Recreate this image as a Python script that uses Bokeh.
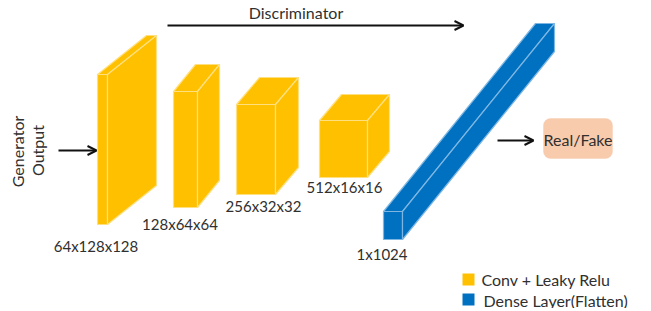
from bokeh.plotting import figure
from bokeh.models import Range1d, Arrow, OpenHead, BoxAnnotation
from bokeh.core.properties import value
from bokeh.embed import file_html
from bokeh.resources import INLINE

# ---- data ----
conv_labels = ["64x128x128", "128x64x64", "256x32x32", "512x16x16"]
dense_label = "1x1024"
legend_labels = ["Conv + Leaky Relu", "Dense Layer(Flatten)"]

# ---- layout (pixel space of the diagram) ----
conv_left = [97, 173, 236, 319]
conv_right = [107, 197, 275, 367]
conv_top = [74, 91, 104, 120]
conv_bottom = [224, 207, 194, 177]
conv_dx = [49, 22, 23, 22]
conv_dy = [39, 27, 27, 26]
conv_label_x = [95.5, 179.5, 263, 344]
conv_label_y = [245, 223, 205, 186]

dense_box = dict(l=383, r=402, t=211, b=239, dx=152, dy=188)
dense_label_xy = (381.5, 253)

YELLOW, YELLOW_EDGE = "#FFC000", "#FFE080"
BLUE, BLUE_EDGE = "#0070C0", "#7DB6E3"
TEXT = "#303030"
FONT = value("Lato")

W, H = 648, 308
p = figure(width=W, height=H, x_range=Range1d(0, W), y_range=Range1d(H, 0),
           output_backend="svg", toolbar_location=None, min_border=0)
p.axis.visible = False
p.grid.visible = False
p.outline_line_color = None
p.background_fill_color = "white"


def draw_box(l, r, t, b, dx, dy, fill, edge):
    xs = [[l, r, r, l],
          [l, r, r + dx, l + dx],
          [r, r + dx, r + dx, r]]
    ys = [[t, t, b, b],
          [t, t, t - dy, t - dy],
          [t, t - dy, b - dy, b]]
    p.patches(xs, ys, fill_color=fill, line_color=edge, line_width=1.2)


for i in range(len(conv_labels)):
    draw_box(conv_left[i], conv_right[i], conv_top[i], conv_bottom[i],
             conv_dx[i], conv_dy[i], YELLOW, YELLOW_EDGE)

d = dense_box
draw_box(d["l"], d["r"], d["t"], d["b"], d["dx"], d["dy"], BLUE, BLUE_EDGE)

# labels
p.text(x=conv_label_x, y=conv_label_y, text=conv_labels, text_font=FONT,
       text_font_size="15px", text_color=TEXT, text_align="center", text_baseline="middle")
p.text(x=[dense_label_xy[0]], y=[dense_label_xy[1]], text=[dense_label], text_font=FONT,
       text_font_size="15px", text_color=TEXT, text_align="center", text_baseline="middle")

# discriminator arrow
p.add_layout(Arrow(end=OpenHead(size=9, line_width=2, line_color="#111111"),
                   x_start=167, y_start=25, x_end=463, y_end=25,
                   line_width=2, line_color="#111111"))
p.text(x=[295.5], y=[12], text=["Discriminator"], text_font=FONT, text_font_size="16px",
       text_color=TEXT, text_align="center", text_baseline="middle")

# generator output
p.text(x=[17, 37], y=[151, 150], text=["Generator", "Output"], angle=1.5708,
       text_font=FONT, text_font_size="16px", text_color=TEXT,
       text_align="center", text_baseline="middle")
p.add_layout(Arrow(end=OpenHead(size=9, line_width=2, line_color="#111111"),
                   x_start=58, y_start=150, x_end=96, y_end=150,
                   line_width=2, line_color="#111111"))

# output arrow and Real/Fake box
p.add_layout(Arrow(end=OpenHead(size=9, line_width=2, line_color="#111111"),
                   x_start=497, y_start=140, x_end=533, y_end=140,
                   line_width=2, line_color="#111111"))
p.add_layout(BoxAnnotation(left=543, right=612, top=118, bottom=158,
                           fill_color="#F8CBAD", fill_alpha=1.0, line_color="#F4BFA0",
                           line_width=1, border_radius=7, level="underlay"))
p.text(x=[577.5], y=[138.5], text=["Real/Fake"], text_font=FONT, text_font_size="16px",
       text_color=TEXT, text_align="center", text_baseline="middle")

# legend
p.quad(left=[462, 462], right=[474, 474], top=[273, 293], bottom=[285, 305],
       fill_color=[YELLOW, BLUE], line_color=None)
p.text(x=[481, 483], y=[278.5, 299.5], text=legend_labels, text_font=FONT,
       text_font_size="16px", text_color=TEXT, text_align="left", text_baseline="middle")

open("out.html", "w").write(file_html(p, INLINE))
